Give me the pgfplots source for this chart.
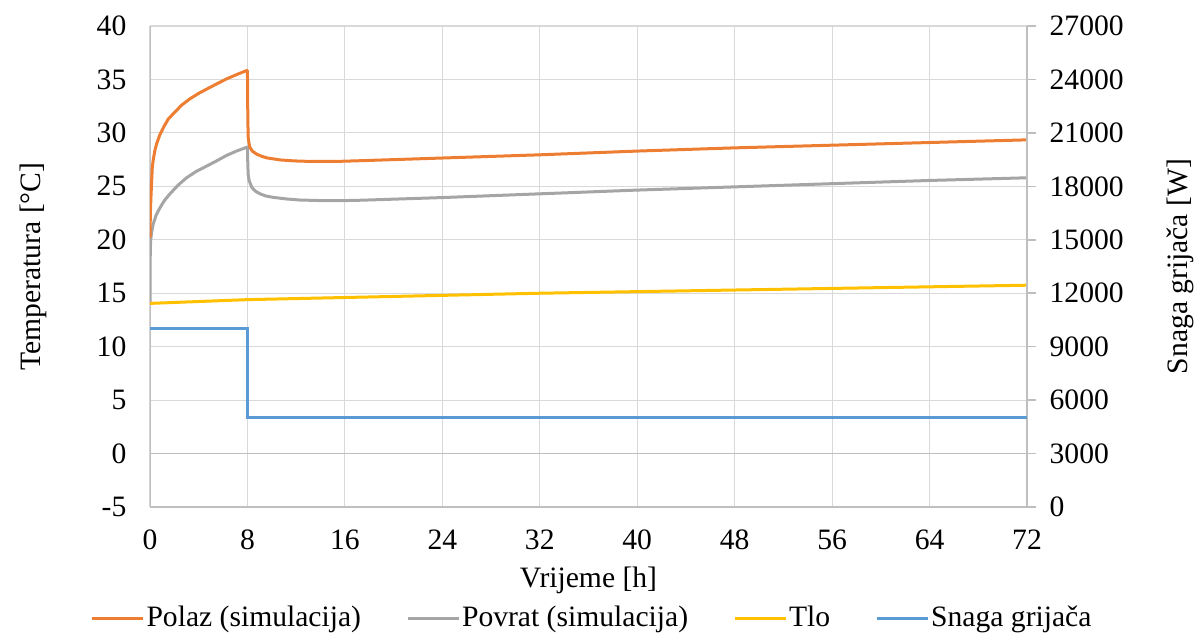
\documentclass[border=0pt]{standalone}
\usepackage{fontspec}
\setmainfont{Liberation Serif}
\usepackage{pgfplots}
\pgfplotsset{compat=1.18}
\definecolor{cpolaz}{HTML}{ED7D31}
\definecolor{cpovrat}{HTML}{A5A5A5}
\definecolor{ctlo}{HTML}{FFC000}
\definecolor{csnaga}{HTML}{5B9BD5}
\definecolor{gridc}{HTML}{D9D9D9}
\definecolor{axisc}{HTML}{BFBFBF}
\begin{document}
\begin{tikzpicture}[font=\fontsize{14.8}{17}\selectfont]
\useasboundingbox (-75pt,-63.5pt) rectangle (524pt,253.5pt);
\begin{axis}[
  scale only axis, width=438.5pt, height=240.5pt,
  at={(0,0)}, anchor=south west,
  xmin=0, xmax=72, ymin=-5, ymax=40,
  xtick={0,8,...,72}, ytick={-5,0,...,40},
  axis line style={draw=none}, major tick length=0pt,
  grid=major, major grid style={draw=gridc, line width=0.6pt},
  /pgf/number format/assume math mode=true,
  yticklabel style={xshift=-8.3pt},
  xticklabel style={yshift=-8.0pt},
  xlabel={Vrijeme [h]},
  ylabel={Temperatura [°C]},
  xlabel style={at={(axis description cs:0.5,-0.1518)}, anchor=center},
  ylabel style={at={(axis description cs:-0.1335,0.5)}, anchor=center},
]
\draw[axisc, line width=0.75pt] (axis cs:0,-5) -- (axis cs:0,40);
\draw[axisc, line width=0.75pt] (axis cs:0,-5) -- (axis cs:72,-5);
\draw[axisc, line width=0.75pt] (axis cs:0,0) -- (axis cs:72,0);
\addplot[cpovrat, line width=1.5pt, line join=round] coordinates {
(0,14.1) (0.01,18.0) (0.05,19.9) (0.12,20.6) (0.27,21.5) (0.5,22.3) (0.82,23.0)
(1.2,23.7) (1.64,24.3) (2.3,25.1) (3.0,25.8) (3.8,26.4) (4.66,26.9) (5.5,27.4)
(6.3,27.9) (7.1,28.3) (7.95,28.66) (8.0,28.66) (8.02,27.5) (8.06,26.1) (8.15,25.5)
(8.36,24.9) (8.65,24.55) (9.04,24.3) (9.5,24.1) (10.1,23.97) (11.2,23.82) (12.3,23.72)
(14,23.67) (15.6,23.66) (17.3,23.7) (20,23.8) (24,23.95) (32,24.3) (40,24.65)
(48,24.95) (56,25.25) (64,25.55) (72,25.8)};
\addplot[cpolaz, line width=1.5pt, line join=round] coordinates {
(0,20.2) (0.03,22.5) (0.08,24.0) (0.14,25.6) (0.19,26.8) (0.27,27.5) (0.41,28.4)
(0.55,29.0) (0.8,29.8) (1.1,30.5) (1.5,31.3) (1.92,31.8) (2.6,32.6) (3.29,33.2)
(4.0,33.7) (4.66,34.1) (5.5,34.6) (6.3,35.06) (7.1,35.45) (7.95,35.84) (8.0,35.84)
(8.03,31.5) (8.06,29.6) (8.12,29.1) (8.2,28.65) (8.4,28.3) (8.77,28.0) (9.2,27.8)
(9.6,27.66) (10.7,27.47) (11.8,27.38) (12.9,27.34) (15.6,27.34) (17.3,27.4) (20,27.5)
(24,27.65) (32,27.95) (40,28.3) (48,28.6) (56,28.85) (64,29.1) (72,29.35)};
\addplot[ctlo, line width=1.5pt] coordinates {
(0,14.05) (8,14.4) (16,14.6) (24,14.8) (32,15.0) (40,15.15) (48,15.3) (56,15.45) (64,15.6) (72,15.75)};
\end{axis}
\begin{axis}[
  scale only axis, width=438.5pt, height=240.5pt,
  at={(0,0)}, anchor=south west,
  xmin=0, xmax=72, ymin=0, ymax=27000,
  axis x line=none, axis y line*=right,
  ytick={0,3000,...,27000},
  y axis line style={draw=axisc, line width=0.75pt},
  tick style={draw=axisc, line width=0.75pt},
  tick align=outside, major tick length=4.5pt,
  scaled y ticks=false,
  /pgf/number format/assume math mode=true,
  yticklabel style={/pgf/number format/1000 sep={}, xshift=3.3pt},
  ylabel={Snaga grijača [W]},
  ylabel style={at={(axis description cs:1.1745,0.5)}, anchor=center},
  legend columns=4,
  legend style={at={(axis description cs:0.504,-0.2308)}, anchor=center, draw=none,
    /tikz/every even column/.append style={column sep=21.5pt},
    nodes={inner xsep=1pt}},
  legend image code/.code={\draw[#1, line width=1.5pt] (0pt,0pt) -- (25.5pt,0pt);},
]
\addlegendimage{cpolaz}\addlegendentry{Polaz (simulacija)}
\addlegendimage{cpovrat}\addlegendentry{Povrat (simulacija)}
\addlegendimage{ctlo}\addlegendentry{Tlo}
\addplot[csnaga, line width=1.5pt] coordinates {(0,10000) (8,10000) (8,5000) (72,5000)};
\addlegendentry{Snaga grijača}
\end{axis}
\end{tikzpicture}
\end{document}
